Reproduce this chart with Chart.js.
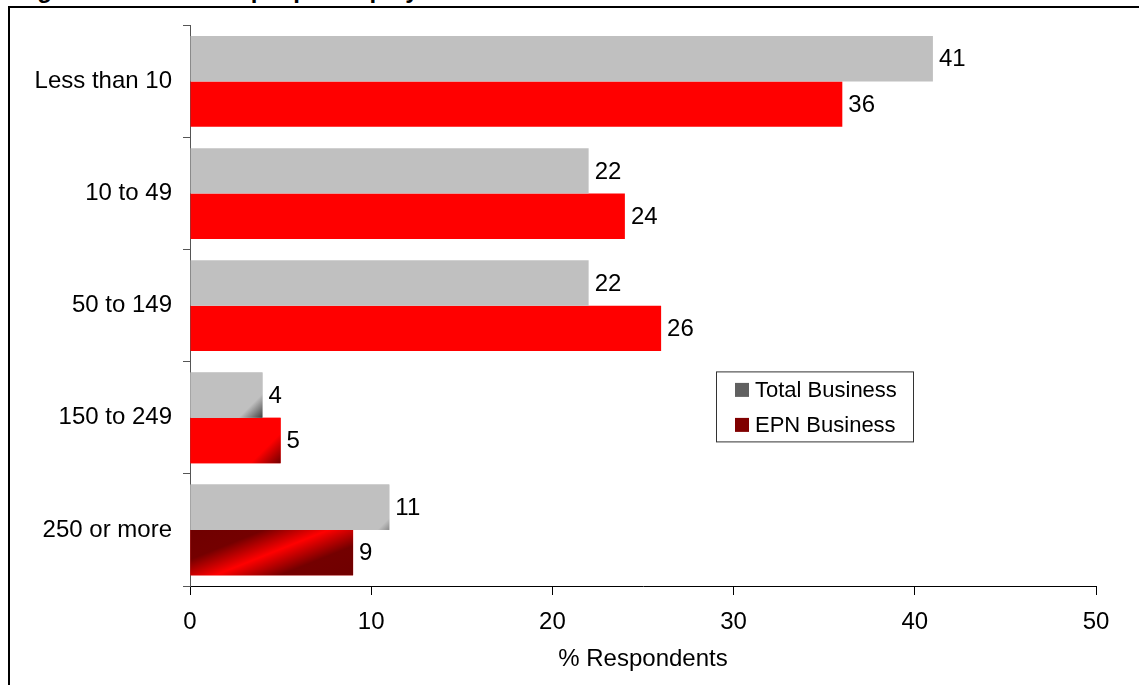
<!DOCTYPE html>
<html>
<head>
<meta charset="utf-8">
<title>Number of people employed at site</title>
<script src="https://cdn.jsdelivr.net/npm/chart.js@4/dist/chart.umd.min.js"></script>
<style>
  html, body { margin: 0; padding: 0; background: #fff; overflow: hidden; }
  body { width: 1139px; height: 685px; position: relative; font-family: "Liberation Sans", Arial, sans-serif; }
  #heading { position: absolute; left: 16px; top: -22px; font-size: 24px; line-height: 24px; font-weight: bold; white-space: nowrap; color: #000; }
  #frame { position: absolute; left: 8px; top: 6px; width: 1300px; height: 900px; border-left: 2px solid #000; border-top: 2px solid #000; }
  #chart1 { position: absolute; left: 0; top: 0; }
</style>
</head>
<body>
<div id="heading">Figure 4: Number of people employed at the site</div>
<div id="frame"></div>
<canvas id="chart1" width="1139" height="685"></canvas>
<script>
// categories and values
const categories = ['Less than 10', '10 to 49', '50 to 149', '150 to 249', '250 or more'];
const totalBusiness = [41, 22, 22, 4, 11];
const epnBusiness = [36, 24, 26, 5, 9];
const xTicks = [0, 10, 20, 30, 40, 50];

const FONT = '"Liberation Sans", Arial, sans-serif';

// shaded bars at the bottom of the chart
const shading = [
    { ds: 0, i: 3, kind: 'corner', k: 12, from: '#c0c0c0', to: '#404040' },
    { ds: 1, i: 3, kind: 'corner', k: 15, from: '#ff0000', to: '#700000' },
    { ds: 0, i: 4, kind: 'corner', k: 6, from: '#c0c0c0', to: '#8a8a8a' },
    { ds: 1, i: 4, kind: 'stripe' }
];

const shadePlugin = {
    id: 'shade',
    afterDatasetDraw(chart, args) {
        const ctx = chart.ctx;
        shading.forEach(function (s) {
            if (s.ds !== args.index) return;
            const el = args.meta.data[s.i];
            const p = el.getProps(['x', 'y', 'base', 'height'], true);
            const L = p.base, R = p.x, T = p.y - p.height / 2, B = p.y + p.height / 2;
            let g;
            if (s.kind === 'corner') {
                g = ctx.createLinearGradient(R - s.k, B - s.k, R, B);
                g.addColorStop(0, s.from);
                g.addColorStop(1, s.to);
            } else {
                // bright band running up to the right across a dark bar
                const cx = L + (R - L) * 0.5, cy = (T + B) / 2;
                const dx = 0.371 * 60, dy = 0.928 * 60;
                g = ctx.createLinearGradient(cx - dx, cy - dy, cx + dx, cy + dy);
                g.addColorStop(0, '#6e0000');
                g.addColorStop(0.3, '#740000');
                g.addColorStop(0.5, '#ff0000');
                g.addColorStop(0.7, '#740000');
                g.addColorStop(1, '#6e0000');
            }
            ctx.save();
            ctx.fillStyle = g;
            ctx.fillRect(L, T, R - L, B - T);
            ctx.restore();
        });
    }
};

const valueLabels = {
    id: 'valueLabels',
    afterDatasetsDraw(chart) {
        const ctx = chart.ctx;
        ctx.save();
        ctx.font = '24px ' + FONT;
        ctx.fillStyle = '#000';
        ctx.textAlign = 'left';
        ctx.textBaseline = 'middle';
        chart.data.datasets.forEach(function (ds, d) {
            chart.getDatasetMeta(d).data.forEach(function (bar, i) {
                ctx.fillText(String(ds.data[i]), bar.x + 6, bar.y + 1);
            });
        });
        ctx.restore();
    }
};

const boxLegend = {
    id: 'boxLegend',
    afterDraw(chart) {
        const ctx = chart.ctx;
        const a = chart.chartArea;
        const left = a.left + 526.5, top = a.top + 346.5;
        const swatch = ['#606060', '#800000'];
        ctx.save();
        ctx.strokeStyle = '#333';
        ctx.lineWidth = 1;
        ctx.strokeRect(left, top, 197, 70);
        ctx.font = '22px ' + FONT;
        ctx.textBaseline = 'middle';
        chart.data.datasets.forEach(function (ds, d) {
            const cy = top + 18 + d * 35;
            ctx.fillStyle = swatch[d];
            ctx.fillRect(left + 18.5, cy - 7, 14, 14);
            ctx.fillStyle = '#000';
            ctx.fillText(ds.label, left + 38.5, cy + 1);
        });
        ctx.restore();
    }
};

const data = {
    labels: categories,
    datasets: [{
        label: 'Total Business',
        backgroundColor: '#c0c0c0',
        data: totalBusiness
    }, {
        label: 'EPN Business',
        backgroundColor: '#ff0000',
        data: epnBusiness
    }]
};

const config = {
    type: 'bar',
    data: data,
    options: {
        indexAxis: 'y',
        responsive: false,
        animation: false,
        devicePixelRatio: 1,
        datasets: { bar: { categoryPercentage: 0.81, barPercentage: 1 } },
        layout: { padding: { top: 24, right: 43, left: 0, bottom: 0 } },
        scales: {
            x: {
                min: xTicks[0],
                max: xTicks[xTicks.length - 1],
                afterBuildTicks(scale) { scale.ticks = xTicks.map(v => ({ value: v })); },
                afterFit(scale) { scale.height = 99; },
                ticks: { color: '#000', font: { family: FONT, size: 24 }, padding: 13 },
                grid: { drawOnChartArea: false, drawTicks: true, tickLength: 9, color: '#000' },
                border: { color: '#000', width: 1 },
                title: {
                    display: true,
                    text: '% Respondents',
                    color: '#000',
                    font: { family: FONT, size: 24 },
                    padding: { top: 4, bottom: 11 }
                }
            },
            y: {
                afterFit(scale) { scale.width = 190; },
                ticks: { color: '#000', font: { family: FONT, size: 24 }, padding: 11 },
                grid: { offset: true, drawOnChartArea: false, drawTicks: true, tickLength: 7, color: '#555' },
                border: { color: '#555', width: 1 }
            }
        },
        plugins: {
            legend: { display: false },
            tooltip: { enabled: false }
        }
    },
    plugins: [shadePlugin, valueLabels, boxLegend]
};

const chart1 = new Chart(document.getElementById('chart1'), config);
</script>
</body>
</html>
